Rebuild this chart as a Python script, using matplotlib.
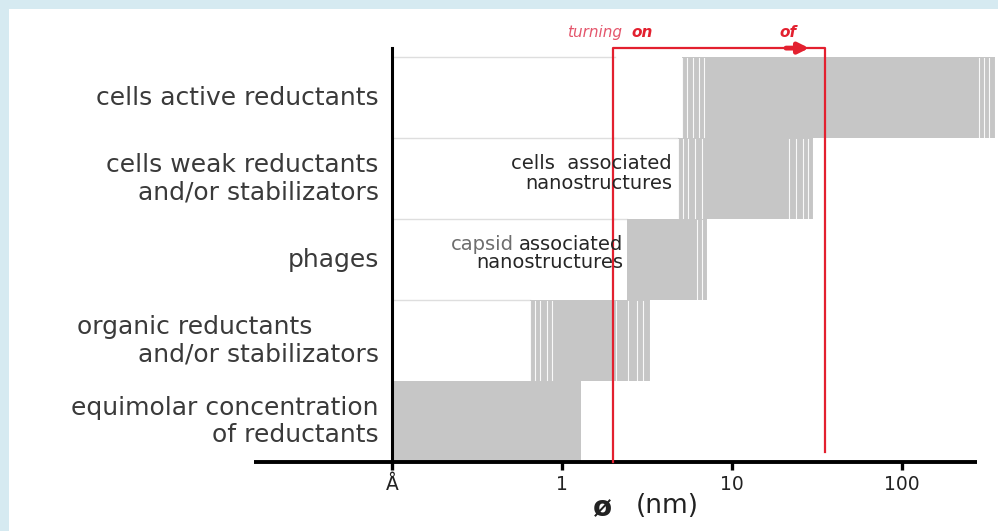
import matplotlib.pyplot as plt
from matplotlib.patches import Rectangle

# size ranges (nm) of the nanostructures obtained with each synthesis route
categories = [
    ["equimolar concentration", "of reductants"],
    ["organic reductants", "and/or stabilizators"],
    ["phages"],
    ["cells weak reductants", "and/or stabilizators"],
    ["cells active reductants"],
]
size_min = [0.1, 0.65, 2.4, 4.8, 5.1]
size_max = [1.3, 3.3, 7.1, 30.0, 350.0]

tick_values = [0.1, 1, 10, 100]
tick_labels = ["Å", "1", "10", "100"]

turn_on = 2.0    # nm
turn_off = 35.0  # nm

# white hairlines drawn near the bar ends (offsets in decades)
stripe_left = [[], [0.0, 0.03, 0.06, 0.1, 0.13], [], [0.0, 0.03, 0.06, 0.1, 0.14],
               [0.0, 0.03, 0.06, 0.1, 0.13]]
stripe_right = [[], [0.0, 0.04, 0.08, 0.13, 0.2], [0.0, 0.03, 0.06], [0.0, 0.03, 0.06, 0.1, 0.14],
                [0.0, 0.03, 0.06, 0.09]]

bar_color = "#c6c6c6"
text_color = "#3a3a3a"
red = "#e3202f"

fig = plt.figure(figsize=(9.98, 5.31), dpi=100)
fig.patch.set_facecolor("#d6eaf1")
fig.patches.append(Rectangle((9 / 998, 0), 1, 1 - 9 / 531, transform=fig.transFigure,
                             facecolor="white", edgecolor="none", zorder=-10))

ax = fig.add_axes([392 / 998, 1 - 462 / 531, (995 - 392) / 998, (462 - 40) / 531])
ax.set_facecolor("none")
ax.set_xscale("log")
ax.set_xlim(0.1, 352)
ax.set_ylim(0, 5.21)
for s in ax.spines.values():
    s.set_visible(False)

for i, (lo, hi) in enumerate(zip(size_min, size_max)):
    ax.barh(i + 0.5, hi - lo, left=lo, height=1.0, color=bar_color, edgecolor="none", zorder=2)
    for off in stripe_left[i]:
        ax.plot([lo * 10 ** off] * 2, [i + 0.01, i + 0.99], color="white", lw=0.8, alpha=0.9, zorder=3)
    for off in stripe_right[i]:
        ax.plot([hi / 10 ** off] * 2, [i + 0.01, i + 0.99], color="white", lw=0.8, alpha=0.9, zorder=3)
    # thin separator from the axis to the bar
    if lo > 0.1:
        ax.plot([0.1, min(lo, turn_on * 1.02)], [i + 1, i + 1], color="#dedede", lw=1, zorder=1)
        if lo > turn_on * 1.02 and i < len(size_min) - 1:
            ax.plot([turn_on, lo], [i + 1, i + 1], color="#dedede", lw=1, zorder=1)

    # category labels, right aligned next to the y axis
    lines = categories[i]
    offsets = [0.0] if len(lines) == 1 else [0.17, -0.17]
    for j, (line, dy) in enumerate(zip(lines, offsets)):
        indent = -48 if (i == 1 and j == 0) else 0
        ax.annotate(line, xy=(0.1, i + 0.5 + dy), xytext=(-9.5 + indent, 0),
                    textcoords="offset points", ha="right", va="center",
                    fontsize=18, color=text_color, annotation_clip=False)

# axes lines
ax.plot([0.1, 0.1], [0, 5.11], color="black", lw=2.2, clip_on=False, zorder=5)
ax.plot([0.0154, 276], [0, 0], color="black", lw=2.8, clip_on=False, zorder=5,
        solid_capstyle="butt")
ax.set_yticks([])
ax.set_xticks(tick_values)
ax.set_xticklabels(tick_labels, fontsize=13.5, color="#222222")
ax.minorticks_off()
ax.tick_params(axis="x", direction="out", length=6, width=2.4, pad=3, color="black")

fig.text(602 / 998, 1 - 508 / 531, "ø", fontsize=20, fontweight="bold", ha="center",
         va="center", color="#222222")
fig.text(667 / 998, 1 - 506 / 531, "(nm)", fontsize=19, ha="center", va="center",
         color="#222222")

# red turning on / off window
ax.plot([turn_on, turn_on, turn_off, turn_off], [0, 5.11, 5.11, 0.12], color=red, lw=1.6,
        clip_on=False, zorder=6)
ax.annotate("", xy=(29.5, 5.11), xytext=(20, 5.11),
            arrowprops=dict(arrowstyle="-|>,head_length=0.6,head_width=0.3", color=red, lw=3.5),
            annotation_clip=False, zorder=7)
ax.text(2.26, 5.30, "turning", fontsize=11, style="italic", color="#e4566c", ha="right",
        va="center", clip_on=False)
ax.text(2.55, 5.30, "on", fontsize=11, style="italic", fontweight="bold", color=red,
        ha="left", va="center", clip_on=False)
ax.text(21.3, 5.30, "of", fontsize=11, style="italic", fontweight="bold", color=red,
        ha="center", va="center", clip_on=False)

# labels inside the plot area
ax.text(4.43, 3.69, "cells  associated", fontsize=14, color="#262626", ha="right",
        va="center", zorder=8)
ax.text(4.43, 3.44, "nanostructures", fontsize=14, color="#262626", ha="right",
        va="center", zorder=8)
assoc = ax.text(2.28, 2.69, "associated", fontsize=14, color="#262626", ha="right",
                va="center", zorder=8)
ax.text(2.28, 2.46, "nanostructures", fontsize=14, color="#262626", ha="right",
        va="center", zorder=8)
renderer = fig.canvas.get_renderer()
w = assoc.get_window_extent(renderer).width
ax.annotate("capsid", xy=(2.28, 2.69), xytext=(-(w + 5) * 72 / 100, 0),
            textcoords="offset points", fontsize=14, color="#6e6e6e", ha="right",
            va="center", zorder=8)

fig.savefig("out.png", dpi=100, facecolor=fig.get_facecolor())
